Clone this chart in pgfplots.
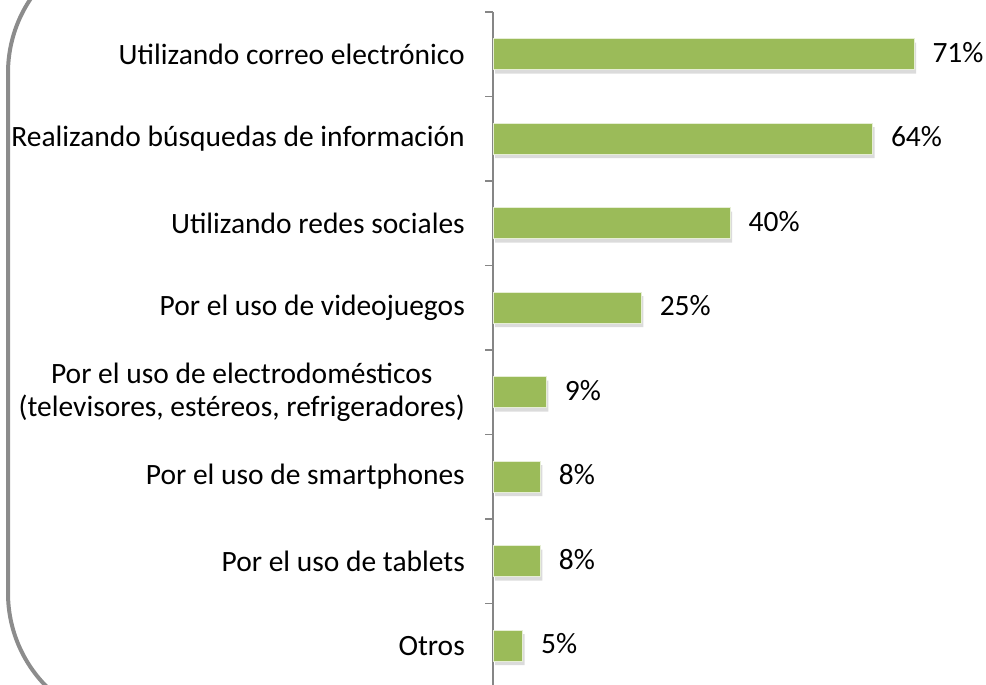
\documentclass[border=0pt]{standalone}
\usepackage{fontspec}
\setmainfont{Carlito}
\usepackage{pgfplots}
\pgfplotsset{compat=1.18}
\usepackage{pgfplotstable}
\definecolor{bargreen}{HTML}{9BBB59}
\definecolor{axgray}{HTML}{868686}
\definecolor{framegray}{HTML}{8C8C8C}
\pgfplotstableread{
y v
8 71
7 64
6 40
5 25
4 9
3 8
2 8
1 5
}\datatable
\begin{document}
\begin{tikzpicture}[x=1bp,y=1bp]
\useasboundingbox (0,0) rectangle (986,685);
\clip (0,0) rectangle (986,685);
\draw[framegray, line width=4bp, rounded corners=133bp] (8,745) rectangle (1100,-41);
\begin{axis}[
  at={(493bp,-3bp)}, anchor=south west,
  scale only axis,
  width=474.4bp, height=676bp,
  xmin=0, xmax=80, ymin=0.5, ymax=8.5,
  axis y line*=left,
  axis x line=none,
  y axis line style={axgray, line width=1.5bp, -},
  ytick={1,...,8},
  yticklabels={Otros,Por el uso de tablets,Por el uso de smartphones,{Por el uso de electrodomésticos\\(televisores, estéreos, refrigeradores)},Por el uso de videojuegos,Utilizando redes sociales,Realizando búsquedas de información,Utilizando correo electrónico},
  major tick length=0pt,
  minor ytick={0.5,1.5,...,8.5},
  minor tick length=8bp,
  tick align=outside,
  minor tick style={axgray, line width=1.5bp},
  yticklabel style={anchor=east, inner sep=0pt, xshift=-28bp, align=center, font=\fontsize{29.6}{32.5}\selectfont},
  xbar, bar width=31bp, bar shift=0pt,
  nodes near coords={\pgfmathprintnumber{\pgfplotspointmeta}\%},
  point meta=x,
  every node near coord/.append style={anchor=west, inner sep=0pt, xshift=18bp, yshift=2bp, font=\fontsize{29.6}{32.5}\selectfont, text=black},
  /pgf/number format/assume math mode=true,
  clip=false,
]
\addplot[fill=bargreen, draw=white!75!bargreen, line width=1bp,
  preaction={fill=black!14, draw=none, transform canvas={xshift=2bp, yshift=-4bp}}]
  table[x=v, y=y] {\datatable};
\end{axis}
\end{tikzpicture}
\end{document}
